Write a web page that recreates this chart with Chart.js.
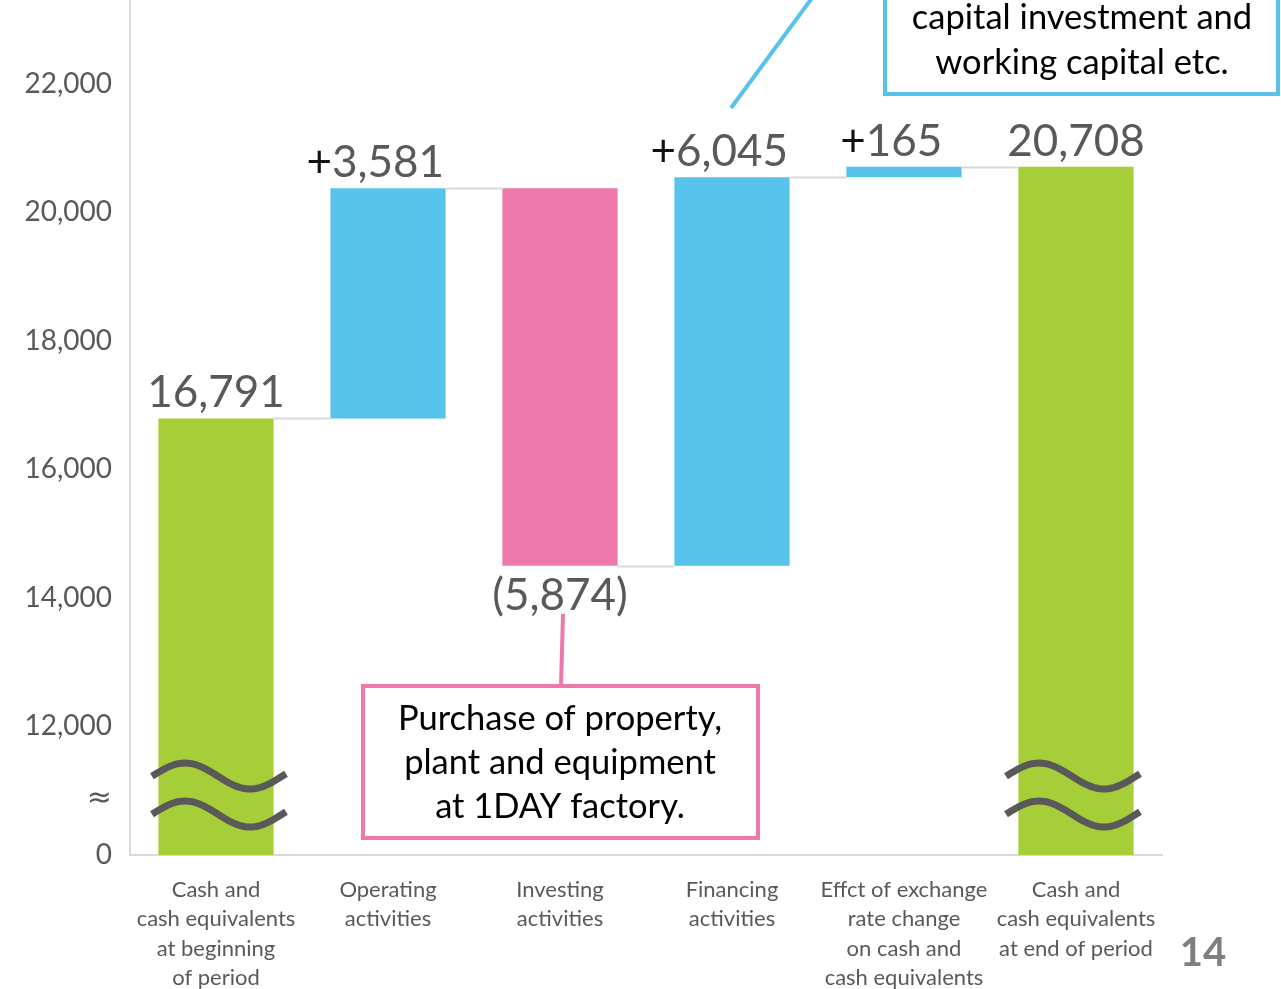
<!DOCTYPE html>
<html>
<head>
<meta charset="utf-8">
<title>Cash flows</title>
<script src="https://cdn.jsdelivr.net/npm/chart.js@4.4.1/dist/chart.umd.min.js"></script>
<style>
  body { margin: 0; background: #fff; }
  canvas { display: block; }
</style>
</head>
<body>
<canvas id="cfChart" width="1281" height="989"></canvas>
<script>
// cash flow figures (millions of yen)
var categories = [
  ["Cash and", "cash equivalents", "at beginning", "of period"],
  ["Operating", "activities"],
  ["Investing", "activities"],
  ["Financing", "activities"],
  ["Effct of exchange", "rate change", "on cash and", "cash equivalents"],
  ["Cash and", "cash equivalents", "at end of period"]
];
var openingCash = 16791;
var changes = [3581, -5874, 6045, 165];
var closingCash = 20708;

// axis is broken below 12,000 - bars start from this floor
var axisFloor = 10000;
var tickValues = [10000, 10870, 12000, 14000, 16000, 18000, 20000, 22000];
var tickText = { 10000: "0", 10870: "\u2248" };

var green = "#a6ce39", blue = "#57c3ea", pink = "#ec78ac";
var gray = "#595959", lineGray = "#d9d9d9";
var fontFamily = "Lato, 'Open Sans', sans-serif";

// build floating bars
var bars = [[axisFloor, openingCash]];
var colors = [green];
var levels = [openingCash];
var level = openingCash;
changes.forEach(function (c) {
  bars.push([level, level + c]);
  colors.push(c >= 0 ? blue : pink);
  level += c;
  levels.push(level);
});
bars.push([axisFloor, closingCash]);
colors.push(green);

function fmt(n) {
  return Math.abs(n).toLocaleString("en-US");
}

var extras = {
  id: "extras",
  afterDatasetsDraw: function (chart) {
    var ctx = chart.ctx;
    var y = chart.scales.y;
    var pts = chart.getDatasetMeta(0).data;

    // connectors between bars
    ctx.save();
    ctx.strokeStyle = lineGray;
    ctx.lineWidth = 2;
    for (var i = 0; i < pts.length - 1; i++) {
      var py = Math.round(y.getPixelForValue(levels[i])) + 0.5;
      ctx.beginPath();
      ctx.moveTo(pts[i].x + pts[i].width / 2, py);
      ctx.lineTo(pts[i + 1].x - pts[i + 1].width / 2, py);
      ctx.stroke();
    }
    ctx.restore();

    // break marks on the total bars
    var floorPx = y.getPixelForValue(axisFloor);
    [[0, 0], [pts.length - 1, -6]].forEach(function (b) {
      var cx = pts[b[0]].x + b[1];
      [floorPx - 79, floorPx - 41].forEach(function (mid) {
        ctx.save();
        ctx.strokeStyle = gray;
        ctx.lineWidth = 7;
        ctx.beginPath();
        for (var x = -64; x <= 70; x += 2) {
          var wy = mid - 13 * Math.cos(2 * Math.PI * (x + 31) / 130);
          if (x === -64) ctx.moveTo(cx + x, wy); else ctx.lineTo(cx + x, wy);
        }
        ctx.stroke();
        ctx.restore();
      });
    });

    // value labels
    ctx.save();
    ctx.font = "44px " + fontFamily;
    ctx.textBaseline = "alphabetic";
    function topLabel(idx, value, withPlus) {
      var p = pts[idx];
      var top = y.getPixelForValue(Math.max(bars[idx][0], bars[idx][1]));
      var txt = fmt(value);
      ctx.fillStyle = gray;
      ctx.textAlign = "center";
      ctx.fillText(txt, p.x, top - 11);
      if (withPlus) {
        var w = ctx.measureText(txt).width;
        ctx.fillStyle = "#111";
        ctx.textAlign = "right";
        ctx.fillText("+", p.x - w / 2, top - 11);
      }
    }
    topLabel(0, openingCash, false);
    changes.forEach(function (c, k) {
      if (c >= 0) {
        topLabel(k + 1, c, true);
      } else {
        var p = pts[k + 1];
        var bottom = y.getPixelForValue(Math.min(bars[k + 1][0], bars[k + 1][1]));
        ctx.fillStyle = gray;
        ctx.textAlign = "center";
        ctx.textBaseline = "top";
        ctx.fillText("(" + fmt(c) + ")", p.x, bottom + 8);
        ctx.textBaseline = "alphabetic";
      }
    });
    topLabel(pts.length - 1, closingCash, false);
    ctx.restore();

    // callout for investing
    var inv = pts[2];
    var invBottom = y.getPixelForValue(Math.min(bars[2][0], bars[2][1]));
    ctx.save();
    ctx.strokeStyle = pink;
    ctx.lineWidth = 4;
    ctx.beginPath();
    ctx.moveTo(inv.x + 3, invBottom + 48);
    ctx.lineTo(inv.x + 1, 686);
    ctx.stroke();
    ctx.fillStyle = "#fff";
    ctx.fillRect(363, 686, 395, 152);
    ctx.strokeRect(363, 686, 395, 152);
    ctx.fillStyle = "#000";
    ctx.font = "34.5px " + fontFamily;
    ctx.textAlign = "center";
    ctx.textBaseline = "middle";
    ctx.fillText("Purchase of property,", 560, 719);
    ctx.fillText("plant and equipment", 560, 763);
    ctx.fillText("at 1DAY factory.", 560, 807);
    ctx.restore();

    // callout for financing
    var fin = pts[3];
    ctx.save();
    ctx.strokeStyle = blue;
    ctx.lineWidth = 4;
    ctx.beginPath();
    ctx.moveTo(fin.x - 1, 108);
    ctx.lineTo(fin.x + 80, -2);
    ctx.stroke();
    ctx.fillStyle = "#fff";
    ctx.fillRect(885, -60, 393, 154);
    ctx.strokeRect(885, -60, 393, 154);
    ctx.fillStyle = "#000";
    ctx.font = "34.5px " + fontFamily;
    ctx.textAlign = "center";
    ctx.textBaseline = "middle";
    ctx.fillText("capital investment and", 1082, 18);
    ctx.fillText("working capital etc.", 1082, 63);
    ctx.restore();

    // page number
    ctx.save();
    ctx.fillStyle = "#7f7f7f";
    ctx.font = "bold 40px " + fontFamily;
    ctx.textAlign = "center";
    ctx.textBaseline = "middle";
    ctx.fillText("14", 1203, 953);
    ctx.restore();
  }
};

var canvasCF = document.getElementById("cfChart");
var cfChart = new Chart(canvasCF, {
  type: "bar",
  data: {
    labels: categories,
    datasets: [{
      data: bars,
      backgroundColor: colors,
      borderWidth: 0,
      categoryPercentage: 1,
      barPercentage: 0.67
    }]
  },
  options: {
    responsive: false,
    animation: false,
    layout: { padding: { top: 0, right: 119, bottom: 0, left: 0 } },
    plugins: {
      legend: { display: false },
      tooltip: { enabled: false }
    },
    scales: {
      x: {
        grid: { display: false },
        border: { display: true, color: lineGray, width: 2 },
        ticks: {
          color: gray,
          font: { family: fontFamily, size: 22, lineHeight: 1.34 },
          padding: 12,
          maxRotation: 0,
          autoSkip: false
        },
        afterFit: function (axis) {
          axis.height = 134;
          axis.paddingLeft = 0;
          axis.paddingRight = 0;
        }
      },
      y: {
        min: axisFloor,
        max: 23300,
        grid: { display: false },
        border: { display: true, color: lineGray, width: 2 },
        afterBuildTicks: function (axis) {
          axis.ticks = tickValues.map(function (v) { return { value: v }; });
        },
        ticks: {
          color: gray,
          font: function (c) {
            if (c.tick && c.tick.value === 10870) {
              return { family: "'DejaVu Sans', sans-serif", size: 30 };
            }
            return { family: fontFamily, size: 28 };
          },
          padding: 10,
          callback: function (v) {
            return tickText[v] !== undefined ? tickText[v] : v.toLocaleString("en-US");
          }
        },
        afterFit: function (axis) {
          axis.width = 130;
          axis.paddingTop = 0;
          axis.paddingBottom = 0;
        }
      }
    }
  },
  plugins: [extras]
});
</script>
</body>
</html>
